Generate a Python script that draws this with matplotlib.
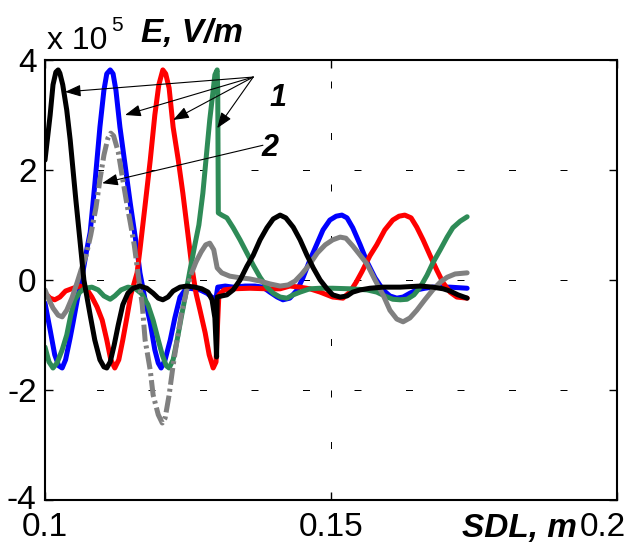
import matplotlib
matplotlib.use('Agg')
import matplotlib.pyplot as plt
import matplotlib.transforms as mtransforms
import numpy as np

# SDL position, m  /  field E in units of 1e5 V/m
black_x = [0.1000, 0.1009, 0.1014, 0.1019, 0.1023, 0.1026, 0.1031, 0.1038, 0.1044, 0.1049,
           0.1054, 0.1061, 0.1068, 0.1079, 0.1087, 0.1096, 0.1103, 0.1108, 0.1114, 0.1121,
           0.1128, 0.1136, 0.1145, 0.1154, 0.1166, 0.1178, 0.1189, 0.1198, 0.1206, 0.1215,
           0.1224, 0.1236, 0.1248, 0.1262, 0.1274, 0.1285, 0.1292, 0.1297, 0.1300, 0.1301,
           0.1309, 0.1318, 0.1329, 0.1341, 0.1353, 0.1364, 0.1376, 0.1388, 0.1399, 0.1411,
           0.1421, 0.1434, 0.1446, 0.1458, 0.1469, 0.1481, 0.1493, 0.1503, 0.1516, 0.1528,
           0.1538, 0.1551, 0.1568, 0.1591, 0.1621, 0.1656, 0.1678, 0.1696, 0.1708, 0.1722,
           0.1738]
black_y = [2.18, 3.00, 3.55, 3.78, 3.82, 3.76, 3.55, 3.09, 2.55, 2.00,
           1.45, 0.73, 0.00, -0.64, -1.09, -1.45, -1.58, -1.60, -1.49, -1.18,
           -0.82, -0.45, -0.24, -0.15, -0.11, -0.15, -0.24, -0.33, -0.36, -0.31,
           -0.20, -0.13, -0.11, -0.13, -0.16, -0.22, -0.36, -0.69, -1.40, -0.31,
           -0.29, -0.27, -0.18, 0.00, 0.25, 0.45, 0.73, 0.95, 1.11, 1.18,
           1.13, 0.96, 0.73, 0.45, 0.22, 0.00, -0.16, -0.27, -0.31, -0.29,
           -0.22, -0.18, -0.15, -0.13, -0.13, -0.11, -0.13, -0.16, -0.20, -0.27,
           -0.33]

blue_x = [0.1000, 0.1009, 0.1017, 0.1024, 0.1030, 0.1036, 0.1044, 0.1049, 0.1058, 0.1066,
          0.1073, 0.1079, 0.1087, 0.1096, 0.1103, 0.1108, 0.1114, 0.1119, 0.1124, 0.1131,
          0.1140, 0.1149, 0.1161, 0.1166, 0.1175, 0.1184, 0.1192, 0.1198, 0.1203, 0.1210,
          0.1219, 0.1227, 0.1236, 0.1245, 0.1253, 0.1271, 0.1283, 0.1294, 0.1299, 0.1302,
          0.1315, 0.1329, 0.1350, 0.1367, 0.1381, 0.1393, 0.1406, 0.1416, 0.1428, 0.1441,
          0.1451, 0.1463, 0.1476, 0.1486, 0.1498, 0.1509, 0.1519, 0.1528, 0.1538, 0.1551,
          0.1563, 0.1577, 0.1591, 0.1603, 0.1615, 0.1626, 0.1638, 0.1650, 0.1664, 0.1678,
          0.1708, 0.1738]
blue_y = [-0.42, -0.91, -1.36, -1.56, -1.60, -1.45, -1.05, -0.78, -0.27, 0.13,
          0.55, 0.87, 1.73, 2.78, 3.45, 3.75, 3.82, 3.75, 3.45, 2.78,
          2.09, 1.40, 0.55, 0.13, -0.36, -0.78, -1.27, -1.51, -1.60, -1.45,
          -1.09, -0.69, -0.31, -0.18, -0.15, -0.18, -0.24, -0.33, -0.33, -0.13,
          -0.11, -0.13, -0.11, -0.11, -0.13, -0.22, -0.31, -0.36, -0.33, -0.18,
          0.04, 0.36, 0.67, 0.91, 1.09, 1.16, 1.18, 1.13, 0.95, 0.64,
          0.33, 0.04, -0.18, -0.29, -0.33, -0.31, -0.24, -0.18, -0.15, -0.13,
          -0.13, -0.15]

red_x = [0.1000, 0.1009, 0.1017, 0.1026, 0.1036, 0.1049, 0.1061, 0.1072, 0.1082, 0.1091,
         0.1100, 0.1108, 0.1115, 0.1122, 0.1129, 0.1136, 0.1143, 0.1150, 0.1161, 0.1166,
         0.1175, 0.1184, 0.1192, 0.1199, 0.1206, 0.1211, 0.1217, 0.1224, 0.1233, 0.1241,
         0.1250, 0.1257, 0.1264, 0.1271, 0.1280, 0.1287, 0.1294, 0.1299, 0.1302, 0.1304,
         0.1313, 0.1329, 0.1358, 0.1388, 0.1411, 0.1428, 0.1446, 0.1463, 0.1481, 0.1503,
         0.1521, 0.1533, 0.1544, 0.1554, 0.1568, 0.1580, 0.1594, 0.1608, 0.1619, 0.1629,
         0.1640, 0.1650, 0.1661, 0.1673, 0.1685, 0.1696, 0.1708, 0.1720, 0.1738]
red_y = [-0.24, -0.33, -0.36, -0.31, -0.20, -0.15, -0.11, -0.15, -0.31, -0.49,
         -0.73, -1.09, -1.45, -1.60, -1.45, -1.09, -0.69, -0.27, 0.13, 0.55,
         1.36, 2.18, 3.00, 3.55, 3.82, 3.75, 3.49, 2.78, 2.18, 1.58,
         0.82, 0.22, -0.24, -0.55, -0.96, -1.36, -1.60, -1.49, -0.73, -0.27,
         -0.18, -0.16, -0.15, -0.16, -0.16, -0.11, -0.13, -0.16, -0.22, -0.31,
         -0.33, -0.22, -0.04, 0.15, 0.44, 0.64, 0.91, 1.09, 1.16, 1.18,
         1.13, 0.96, 0.73, 0.45, 0.18, -0.05, -0.22, -0.31, -0.33]

green_x = [0.1000, 0.1007, 0.1014, 0.1021, 0.1030, 0.1038, 0.1045, 0.1052, 0.1061, 0.1070,
           0.1082, 0.1093, 0.1103, 0.1114, 0.1122, 0.1133, 0.1145, 0.1157, 0.1169, 0.1180,
           0.1189, 0.1198, 0.1205, 0.1212, 0.1217, 0.1224, 0.1231, 0.1238, 0.1245, 0.1253,
           0.1262, 0.1269, 0.1276, 0.1283, 0.1288, 0.1294, 0.1297, 0.1301, 0.1302, 0.1303,
           0.1309, 0.1318, 0.1329, 0.1341, 0.1353, 0.1364, 0.1376, 0.1388, 0.1399, 0.1411,
           0.1423, 0.1434, 0.1446, 0.1463, 0.1481, 0.1503, 0.1533, 0.1563, 0.1580, 0.1594,
           0.1608, 0.1621, 0.1633, 0.1645, 0.1656, 0.1668, 0.1678, 0.1691, 0.1703, 0.1713,
           0.1726, 0.1738]
green_y = [-1.22, -1.49, -1.60, -1.51, -1.27, -1.00, -0.64, -0.36, -0.22, -0.15,
           -0.13, -0.18, -0.29, -0.35, -0.29, -0.18, -0.13, -0.15, -0.25, -0.45,
           -0.73, -1.09, -1.36, -1.56, -1.60, -1.45, -1.09, -0.69, -0.31, 0.15,
           0.64, 1.00, 1.58, 2.36, 2.91, 3.45, 3.73, 3.82, 3.45, 1.22,
           1.18, 1.13, 0.95, 0.73, 0.49, 0.27, 0.05, -0.13, -0.24, -0.31,
           -0.33, -0.27, -0.22, -0.16, -0.15, -0.15, -0.16, -0.18, -0.22, -0.29,
           -0.35, -0.36, -0.35, -0.27, -0.13, 0.09, 0.31, 0.55, 0.78, 0.95,
           1.07, 1.15]

gray_x = [0.1000, 0.1007, 0.1014, 0.1023, 0.1030, 0.1038, 0.1047, 0.1056, 0.1063, 0.1072,
          0.1080, 0.1089, 0.1096, 0.1103, 0.1110, 0.1115, 0.1120, 0.1128, 0.1134, 0.1142,
          0.1149, 0.1156, 0.1163, 0.1170, 0.1175, 0.1184, 0.1189, 0.1198, 0.1205, 0.1210,
          0.1217, 0.1224, 0.1231, 0.1238, 0.1247, 0.1255, 0.1264, 0.1273, 0.1281, 0.1288,
          0.1295, 0.1301, 0.1309, 0.1323, 0.1341, 0.1358, 0.1376, 0.1393, 0.1411, 0.1425,
          0.1437, 0.1449, 0.1463, 0.1476, 0.1490, 0.1503, 0.1516, 0.1526, 0.1538, 0.1551,
          0.1563, 0.1577, 0.1591, 0.1603, 0.1615, 0.1626, 0.1638, 0.1650, 0.1664, 0.1678,
          0.1691, 0.1703, 0.1717, 0.1738]
gray_y = [-0.18, -0.36, -0.51, -0.64, -0.67, -0.55, -0.33, -0.05, 0.18, 0.45,
          0.82, 1.31, 1.82, 2.27, 2.58, 2.67, 2.62, 2.33, 1.95, 1.45,
          1.05, 0.64, 0.09, -0.45, -1.09, -1.64, -2.09, -2.45, -2.60, -2.51,
          -2.09, -1.55, -1.09, -0.64, -0.22, 0.09, 0.33, 0.51, 0.64, 0.67,
          0.55, 0.22, 0.13, 0.07, 0.04, 0.02, -0.02, -0.07, -0.11, -0.09,
          -0.02, 0.11, 0.29, 0.49, 0.64, 0.73, 0.78, 0.76, 0.62, 0.45,
          0.29, 0.00, -0.27, -0.55, -0.71, -0.76, -0.69, -0.55, -0.36, -0.18,
          -0.04, 0.05, 0.11, 0.13]

xticks = [0.1, 0.15, 0.2]
xticklabels = ['0.1', '0.15', '0.2']
yticks = [-4, -2, 0, 2, 4]
yticklabels = ['-4', '-2', '0', '2', '4']

plt.rcParams['font.family'] = ['Liberation Sans', 'DejaVu Sans']

fig = plt.figure(figsize=(6.44, 5.47), dpi=100)
ax = fig.add_axes([45 / 644, 1 - 500 / 547, 572 / 644, 440 / 547])

lw = 3.6
style = dict(lw=lw, solid_capstyle='round', solid_joinstyle='round')
ax.plot(blue_x, blue_y, color='#0000ff', **style)
ax.plot(red_x, red_y, color='#ff0000', **style)
ax.plot(green_x, green_y, color='#2e8b57', **style)

# gray curve: dash-dot shows only on the steep part, solid elsewhere
gx = np.array(gray_x)
gy = np.array(gray_y)
steep = (gx >= 0.1063) & (gx <= 0.1264)
left = gx <= 0.1063
right = gx >= 0.1264
ax.plot(gx[left], gy[left], color='#808080', **style)
ax.plot(gx[right], gy[right], color='#808080', **style)
ax.plot(gx[steep], gy[steep], color='#808080', lw=lw, linestyle=(0, (3.4, 0.8, 0.6, 0.8)))

ax.plot(black_x, black_y, color='black', **style)

ax.set_xlim(0.1, 0.2)
ax.set_ylim(-4, 4)
ax.set_xticks(xticks)
ax.set_xticklabels(xticklabels)
ax.set_yticks(yticks)
ax.set_yticklabels(yticklabels)
ax.tick_params(direction='in', length=6, width=1, top=True, right=True,
               labelsize=24, pad=6)
ax.tick_params(axis='x', pad=9)
for s in ax.spines.values():
    s.set_linewidth(1.5)
ax.grid(True, color='black', lw=0.72, linestyle=(0, (7, 44.5)))

# last x label sits a little left of its tick
lab = ax.get_xticklabels()[-1]
lab.set_transform(lab.get_transform() + mtransforms.ScaledTranslation(-14 / 100, 0, fig.dpi_scale_trans))
# lowest y label nudged up so it clears the 0.1 label
lab = ax.get_yticklabels()[0]
lab.set_transform(lab.get_transform() + mtransforms.ScaledTranslation(0, 3 / 100, fig.dpi_scale_trans))

fig.text(47 / 644, 1 - 49 / 547, 'x 10', fontsize=23, ha='left', va='baseline')
fig.text(111 / 644, 1 - 31 / 547, '5', fontsize=15, ha='left', va='baseline')
fig.text(141 / 644, 1 - 42 / 547, 'E, V/m', fontsize=24, fontweight='bold', fontstyle='italic',
         ha='left', va='baseline')
fig.text(462 / 644, 1 - 537 / 547, 'SDL, m', fontsize=24, fontweight='bold', fontstyle='italic',
         ha='left', va='baseline')

arrow = dict(arrowstyle='-|>,head_length=0.8,head_width=0.3', color='black', lw=0.8,
             shrinkA=0, shrinkB=0, mutation_scale=12)
for tx, ty in [(0.1035, 3.42), (0.1140, 3.00), (0.1224, 2.91), (0.1301, 2.76)]:
    ax.annotate('', xy=(tx, ty), xytext=(0.1364, 3.69), arrowprops=arrow)
ax.annotate('', xy=(0.1100, 1.76), xytext=(0.1381, 2.45), arrowprops=arrow)
ax.text(0.1407, 3.31, '1', fontsize=22, fontweight='bold', fontstyle='italic', ha='center', va='center')
ax.text(0.1393, 2.40, '2', fontsize=22, fontweight='bold', fontstyle='italic', ha='center', va='center')

fig.savefig('out.png', dpi=100)
